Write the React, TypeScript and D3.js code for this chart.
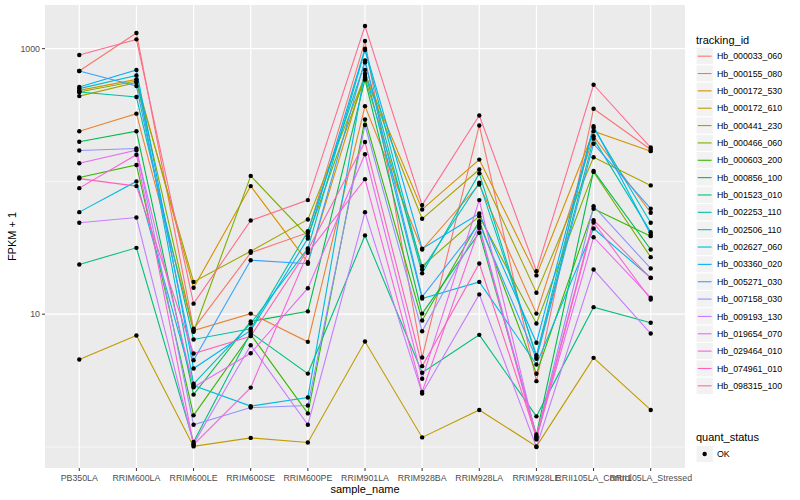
import React from "react";
import * as d3 from "d3";

const samples = ["PB350LA","RRIM600LA","RRIM600LE","RRIM600SE","RRIM600PE","RRIM901LA","RRIM928BA","RRIM928LA","RRIM928LE","RRII105LA_Control","RRII105LA_Stressed"];

const trackingIds = ["Hb_000033_060","Hb_000155_080","Hb_000172_530","Hb_000172_610","Hb_000441_230","Hb_000466_060","Hb_000603_200","Hb_000856_100","Hb_001523_010","Hb_002253_110","Hb_002506_110","Hb_002627_060","Hb_003360_020","Hb_005271_030","Hb_007158_030","Hb_009193_130","Hb_019654_070","Hb_029464_010","Hb_074961_010","Hb_098315_100"];

const hueColors = ["#F8766D","#EA8331","#D89000","#C09B00","#A3A500","#7CAE00","#39B600","#00BB4E","#00BF7D","#00C1A3","#00BFC4","#00BAE0","#00B0F6","#35A2FF","#9590FF","#C77CFF","#E76BF3","#FA62DB","#FF62BC","#FF6C91"];

// FPKM + 1 per tracking_id, in sample order
const s00 = [678, 1311, 7.76, 29.0, 41.1, 1141, 4.72, 264, 3.13, 353, 174];
const s01 = [239, 324, 7.54, 10.1, 6.19, 369, 30.7, 94.9, 10.1, 219, 58.1];
const s02 = [485, 587, 15.8, 92.2, 24.6, 648, 61.5, 146, 19.6, 239, 169];
const s03 = [4.56, 6.91, 1.01, 1.17, 1.08, 6.23, 1.18, 1.90, 1.01, 4.69, 1.90];
const s04 = [439, 557, 17.5, 29.8, 51.7, 622, 52.3, 123, 14.5, 152, 93.3];
const s05 = [471, 570, 7.37, 110, 38.7, 605, 23.0, 54.7, 8.51, 118, 26.9];
const s06 = [107, 133, 1.73, 7.03, 1.79, 293, 8.97, 50.2, 3.56, 62.3, 38.7];
const s07 = [199, 239, 2.48, 8.81, 10.5, 584, 10.1, 41.1, 1.24, 120, 30.7];
const s08 = [23.7, 31.6, 1.09, 7.24, 3.57, 39.2, 3.62, 6.99, 1.70, 11.3, 8.61];
const s09 = [471, 432, 6.45, 7.76, 42.2, 788, 20.3, 115, 4.74, 210, 41.5];
const s10 = [500, 629, 2.99, 8.51, 31.3, 976, 21.7, 97.8, 4.91, 254, 48.8];
const s11 = [58.7, 100, 2.90, 2.03, 2.36, 690, 13.1, 17.5, 4.18, 44.2, 18.8];
const s12 = [514, 690, 3.90, 7.54, 37.2, 1000, 31.1, 57.4, 6.09, 261, 39.9];
const s13 = [678, 523, 4.50, 25.5, 24.0, 816, 13.5, 48.0, 4.61, 192, 62.3];
const s14 = [171, 177, 1.47, 1.98, 2.05, 266, 7.44, 46.0, 1.20, 65.1, 22.1];
const s15 = [48.8, 53.5, 1.05, 5.84, 1.47, 58.7, 2.53, 14.1, 1.00, 21.7, 7.15];
const s16 = [137, 172, 2.82, 5.08, 15.7, 160, 3.26, 72.3, 1.17, 38.0, 13.3];
const s17 = [89.0, 159, 1.04, 2.80, 29.0, 104, 2.60, 44.6, 1.14, 49.1, 12.9];
const s18 = [105, 92.2, 5.06, 6.83, 30.5, 198, 4.06, 24.1, 1.19, 51.1, 18.7];
const s19 = [895, 1175, 12.0, 50.8, 72.3, 1480, 66.3, 314, 21.1, 535, 180];

const seriesValues = [s00,s01,s02,s03,s04,s05,s06,s07,s08,s09,s10,s11,s12,s13,s14,s15,s16,s17,s18,s19];

const yMajor = [10, 1000];
const yMinor = [1, 100];
const quantLevels = ["OK"];

export default function App() {
  const W = 800, H = 500;
  const left = 45, right = 685, top = 5, bottom = 468;
  const font = "'Liberation Sans', Arial, Helvetica, sans-serif";

  const x = d3.scalePoint<string>().domain(samples).range([left, right]).padding(0.6);
  const all = seriesValues.flat();
  const lmin = Math.log10(d3.min(all)!);
  const lmax = Math.log10(d3.max(all)!);
  const pad = (lmax - lmin) * 0.05;
  const y = d3.scaleLog().domain([Math.pow(10, lmin - pad), Math.pow(10, lmax + pad)]).range([bottom, top]);

  const line = d3.line<number>().x((_, i) => x(samples[i])!).y(v => y(v));

  const legendX = 696;
  const keyH = 17.35;
  const firstKey = 47.5;

  return (
    <div style={{ position: "fixed", left: 0, top: 0 }}>
      <svg width={W} height={H} style={{ display: "block", fontFamily: font }}>
        <rect x={0} y={0} width={W} height={H} fill="#FFFFFF" />
        <rect x={left} y={top} width={right - left} height={bottom - top} fill="#EBEBEB" />
        {yMinor.map(v => (
          <line key={"mi" + v} x1={left} x2={right} y1={y(v)} y2={y(v)} stroke="#FFFFFF" strokeWidth={0.6} />
        ))}
        {yMajor.map(v => (
          <line key={"ma" + v} x1={left} x2={right} y1={y(v)} y2={y(v)} stroke="#FFFFFF" strokeWidth={1.2} />
        ))}
        {samples.map(s => (
          <line key={"vx" + s} x1={x(s)} x2={x(s)} y1={top} y2={bottom} stroke="#FFFFFF" strokeWidth={1.2} />
        ))}
        {seriesValues.map((vals, i) => (
          <path key={"l" + i} d={line(vals)!} fill="none" stroke={hueColors[i]} strokeWidth={1.1} />
        ))}
        {seriesValues.map((vals, i) =>
          vals.map((v, j) => (
            <circle key={"p" + i + "_" + j} cx={x(samples[j])} cy={y(v)} r={2.2} fill="#000000" />
          ))
        )}
        {/* y axis */}
        {yMajor.map(v => (
          <g key={"yt" + v}>
            <line x1={left - 3} x2={left} y1={y(v)} y2={y(v)} stroke="#333333" strokeWidth={1} />
            <text x={left - 5} y={y(v)} dy="0.35em" textAnchor="end" fontSize={8.8} fill="#4D4D4D">{d3.format("d")(v)}</text>
          </g>
        ))}
        {/* x axis */}
        {samples.map(s => (
          <g key={"xt" + s}>
            <line x1={x(s)} x2={x(s)} y1={bottom} y2={bottom + 3} stroke="#333333" strokeWidth={1} />
            <text x={x(s)} y={bottom + 13} textAnchor="middle" fontSize={8.8} fill="#4D4D4D">{s}</text>
          </g>
        ))}
        <text x={(left + right) / 2} y={493} textAnchor="middle" fontSize={11} fill="#000000">sample_name</text>
        <text transform={`translate(16,${(top + bottom) / 2}) rotate(-90)`} textAnchor="middle" fontSize={11} fill="#000000">FPKM + 1</text>

        {/* legend: tracking_id */}
        <text x={legendX} y={44} fontSize={11} fill="#000000">tracking_id</text>
        {trackingIds.map((id, i) => {
          const cy = firstKey + i * keyH + keyH / 2;
          return (
            <g key={"lg" + id}>
              <rect x={legendX} y={cy - keyH / 2} width={17.3} height={keyH} fill="#F2F2F2" stroke="#FFFFFF" strokeWidth={1} />
              <line x1={legendX + 1.7} x2={legendX + 15.6} y1={cy} y2={cy} stroke={hueColors[i]} strokeWidth={1.1} />
              <text x={legendX + 21} y={cy} dy="0.35em" fontSize={8.8} fill="#000000">{id}</text>
            </g>
          );
        })}

        {/* legend: quant_status */}
        <text x={legendX} y={441} fontSize={11} fill="#000000">quant_status</text>
        {quantLevels.map((q, i) => {
          const cy = 454 + i * keyH;
          return (
            <g key={"q" + q}>
              <rect x={legendX} y={cy - keyH / 2} width={17.3} height={keyH} fill="#F2F2F2" stroke="#FFFFFF" strokeWidth={1} />
              <circle cx={legendX + 8.65} cy={cy} r={2.2} fill="#000000" />
              <text x={legendX + 21} y={cy} dy="0.35em" fontSize={8.8} fill="#000000">{q}</text>
            </g>
          );
        })}
      </svg>
    </div>
  );
}
